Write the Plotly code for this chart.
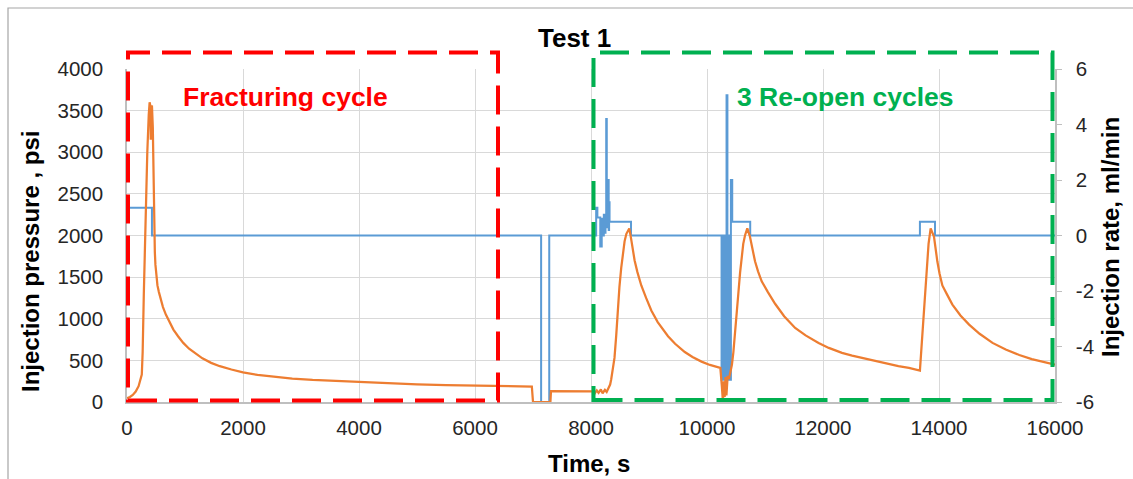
import plotly.graph_objects as go

# ---------------- data ----------------
# Injection pressure (psi) vs time (s)
time_p = [0, 50, 100, 150, 200, 240, 255, 258, 270, 290, 320, 350, 375, 390, 402, 410, 418, 430,
          445, 455, 470, 480, 490, 505, 525, 550, 580, 620, 670, 730, 800, 880, 970, 1070, 1180,
          1300, 1450, 1600, 1800, 2000, 2250, 2500, 2850, 3200, 3600, 4000, 4500, 5000, 5500,
          6000, 6500, 6980, 7000, 7300, 7310, 8040, 8060, 8100, 8130, 8170, 8200, 8240, 8270,
          8300, 8330, 8348, 8375, 8405, 8435, 8463, 8490, 8521, 8550, 8579, 8610, 8637, 8660,
          8694, 8720, 8752, 8800, 8867, 8950, 9040, 9150, 9328, 9450, 9617, 9750, 9905, 10050,
          10230, 10255, 10275, 10290, 10305, 10320, 10335, 10355, 10380, 10410, 10430, 10455,
          10482, 10510, 10540, 10570, 10598, 10625, 10655, 10695, 10741, 10780, 10828, 10880,
          10943, 11050, 11174, 11330, 11520, 11700, 11924, 12100, 12327, 12502, 12700, 12904,
          13079, 13300, 13481, 13671, 13820, 13840, 13856, 13914, 13940, 13971, 14010, 14058,
          14140, 14231, 14370, 14519, 14700, 14923, 15150, 15384, 15600, 15788, 16000]
pressure = [45, 60, 85, 125, 190, 300, 330, 380, 600, 1300, 2200, 3000, 3450, 3600, 3560, 3150,
            3550, 3560, 3300, 2700, 2000, 1800, 1650, 1500, 1400, 1320, 1230, 1140, 1050, 960,
            870, 790, 710, 640, 580, 525, 470, 430, 390, 357, 325, 305, 282, 265, 252, 238, 223,
            212, 203, 196, 191, 186, 0, 0, 130, 128, 100, 140, 110, 150, 105, 145, 120, 160,
            210, 270, 380, 530, 800, 1130, 1380, 1610, 1790, 1930, 2020, 2060, 2085, 1950,
            1830, 1700, 1560, 1400, 1250, 1100, 960, 790, 700, 600, 540, 485, 445, 410, 200,
            0, 250, 60, 300, 80, 300, 290, 380, 450, 600, 800, 1050, 1300, 1550, 1750, 1900,
            2000, 2085, 1985, 1830, 1690, 1570, 1450, 1320, 1180, 1030, 890, 800, 710, 650, 590,
            558, 525, 495, 460, 432, 410, 378, 1900, 2040, 2085, 1985, 1830, 1690, 1540, 1400,
            1290, 1170, 1040, 930, 820, 710, 630, 565, 515, 480, 448]

# Injection rate (ml/min): value holds from each time until the next one
time_r = [0, 430, 7140, 7280, 8089, 8110, 8160, 8185, 8204, 8221, 8240, 8250, 8262, 8272, 8280,
          8291, 8305, 8312, 8320, 8690, 10251, 10263, 10275, 10287, 10299, 10311, 10323, 10337,
          10352, 10366, 10380, 10396, 10404, 10412, 10435, 10745, 13671, 13931, 16000]
rate = [1.0, 0, -6, 0, 1.0, 0.65, -0.4, 0.6, 0, 0.75, 0.1, 0.7, 4.2, 0.3, 0.8,
        2.0, 0.2, 1.2, 0.5, 0, -5.2, 0, -5.2, 0, -5.2, 0, -5.2, 5.05,
        -5.2, 0, -5.2, 0, -5.2, 2.0, 0.5, 0, 0.5, 0, 0]

x_ticks = [0, 2000, 4000, 6000, 8000, 10000, 12000, 14000, 16000]
p_ticks = [0, 500, 1000, 1500, 2000, 2500, 3000, 3500, 4000]
r_ticks = [-6, -4, -2, 0, 2, 4, 6]

title_text = "Test 1"
x_title = "Time, s"
yl_title = "Injection pressure , psi"
yr_title = "Injection rate, ml/min"
label_frac = "Fracturing cycle"
label_reopen = "3 Re-open cycles"

# ---------------- layout helpers ----------------
W, H = 1133, 479
L, R, T, B = 127, 1055, 69, 402


def px_x(px):
    return (px - L) / (R - L)


def px_y(py):
    return (B - py) / (B - T)


FONT = "Liberation Sans, Arial, sans-serif"
BLUE = "#5B9BD5"
ORANGE = "#ED7D31"
RED = "#FF0000"
GREEN = "#00B050"
GRID = "#d9d9d9"
AXIS = "#bfbfbf"
TXT = "#262626"

fig = go.Figure()
fig.add_trace(go.Scatter(x=time_r, y=rate, mode="lines", line=dict(color=BLUE, width=2, shape="hv"),
                         yaxis="y", showlegend=False, hoverinfo="x+y"))
fig.add_trace(go.Scatter(x=time_p, y=pressure, mode="lines", line=dict(color=ORANGE, width=2.25),
                         yaxis="y2", showlegend=False, hoverinfo="x+y"))

fig.update_layout(
    width=W, height=H,
    margin=dict(l=L, r=W - R, t=T, b=H - B, pad=0),
    paper_bgcolor="white", plot_bgcolor="white",
    font=dict(family=FONT, color=TXT),
    xaxis=dict(range=[0, 16000], tickvals=x_ticks, ticktext=[str(v) for v in x_ticks],
               showgrid=True, gridcolor=GRID, gridwidth=1, zeroline=False,
               showline=True, linecolor=AXIS, linewidth=1.5, ticks="",
               tickfont=dict(size=20.5, color=TXT, family=FONT), ticklabelstandoff=7),
    yaxis=dict(range=[-6, 6], tickvals=r_ticks, ticktext=[str(v) for v in r_ticks], side="right",
               showgrid=False, zeroline=False, showline=True, linecolor=AXIS, linewidth=1.5,
               ticks="outside", ticklen=5, tickcolor=AXIS,
               tickfont=dict(size=20.5, color=TXT, family=FONT), ticklabelstandoff=10),
    yaxis2=dict(range=[0, 4000], tickvals=p_ticks, ticktext=[str(v) for v in p_ticks], side="left",
                overlaying="y", showgrid=True, gridcolor=GRID, gridwidth=1, zeroline=False,
                showline=True, linecolor=AXIS, linewidth=1.5, ticks="",
                tickfont=dict(size=20.5, color=TXT, family=FONT), ticklabelstandoff=18),
)

shapes = [
    # outer chart frame
    dict(type="path", xref="paper", yref="paper",
         path=f"M {px_x(8)},{px_y(495)} L {px_x(8)},{px_y(8)} L {px_x(1140)},{px_y(8)}",
         line=dict(color="#a6a6a6", width=1.2)),
    # red dashed box
    dict(type="rect", xref="paper", yref="paper", x0=px_x(128), x1=px_x(498),
         y0=px_y(400.5), y1=px_y(52.5), line=dict(color=RED, width=4, dash="29px,12px"),
         fillcolor="rgba(0,0,0,0)"),
    # green dashed box
    dict(type="rect", xref="paper", yref="paper", x0=px_x(593.5), x1=px_x(1052.5),
         y0=px_y(400), y1=px_y(52.5), line=dict(color=GREEN, width=4, dash="29px,12px"),
         fillcolor="rgba(0,0,0,0)"),
]
fig.update_layout(shapes=shapes)

ann = [
    dict(text=f"<b>{title_text}</b>", x=px_x(574), y=px_y(38), font=dict(size=26, color="black")),
    dict(text=f"<b>{x_title}</b>", x=px_x(589), y=px_y(463), font=dict(size=24, color="black")),
    dict(text=f"<b>{yl_title}</b>", x=px_x(30), y=px_y(262), textangle=-90,
         font=dict(size=24, color="black")),
    dict(text=f"<b>{yr_title}</b>", x=px_x(1111), y=px_y(237), textangle=-90,
         font=dict(size=24, color="black")),
    dict(text=f"<b>{label_frac}</b>", x=px_x(285), y=px_y(97), font=dict(size=26.5, color=RED)),
    dict(text=f"<b>{label_reopen}</b>", x=px_x(845), y=px_y(97), font=dict(size=26.5, color=GREEN)),
]
for a in ann:
    fig.add_annotation(xref="paper", yref="paper", xanchor="center", yanchor="middle",
                       showarrow=False, **a)

fig.write_html("out.html")
